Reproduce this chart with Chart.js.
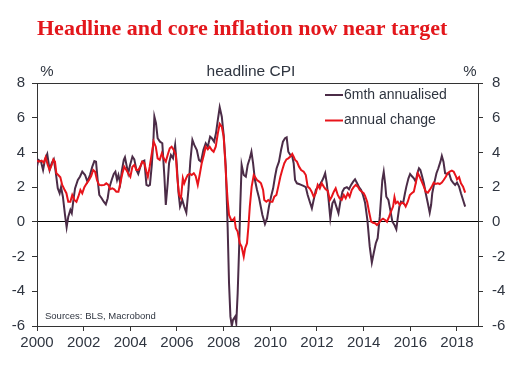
<!DOCTYPE html>
<html>
<head>
<meta charset="utf-8">
<script src="https://cdn.jsdelivr.net/npm/chart.js@4"></script>
<style>
  body { margin: 0; background: #fff; }
  canvas { display: block; }
</style>
</head>
<body>
<canvas id="chart" width="522" height="371"></canvas>
<script>
const TITLE = "Headline and core inflation now near target";
const SUBTITLE = "headline CPI";
const SOURCE = "Sources: BLS, Macrobond";
const LEGEND_LABELS = ["6mth annualised", "annual change"];
const X_TICKS = { min: 2000, max: 2018.9, step: 2 };
const Y_TICKS = { min: -6, max: 8, step: 2 };

// 6mth annualised (year, %)
const sixMonthX = [
  2000.00, 2000.06, 2000.17, 2000.26, 2000.34, 2000.44, 2000.54, 2000.63, 2000.72, 2000.80,
  2000.89, 2000.97, 2001.03, 2001.11, 2001.20, 2001.27, 2001.34, 2001.43, 2001.49, 2001.57,
  2001.63, 2001.75, 2001.84, 2001.94, 2002.06, 2002.16, 2002.27, 2002.37, 2002.46, 2002.53,
  2002.60, 2002.67, 2002.77, 2002.86, 2002.95, 2003.03, 2003.09, 2003.20, 2003.29, 2003.36,
  2003.43, 2003.49, 2003.57, 2003.63, 2003.72, 2003.77, 2003.85, 2003.91, 2003.99, 2004.09,
  2004.17, 2004.26, 2004.34, 2004.43, 2004.51, 2004.60, 2004.69, 2004.77, 2004.84, 2004.92,
  2004.99, 2005.03, 2005.10, 2005.17, 2005.27, 2005.37, 2005.46, 2005.52, 2005.60, 2005.66,
  2005.74, 2005.83, 2005.92, 2005.99, 2006.06, 2006.13, 2006.23, 2006.31, 2006.40, 2006.49,
  2006.57, 2006.66, 2006.74, 2006.85, 2006.94, 2007.03, 2007.13, 2007.23, 2007.32, 2007.42,
  2007.49, 2007.59, 2007.67, 2007.75, 2007.83, 2007.92, 2008.00, 2008.09, 2008.17, 2008.23,
  2008.29, 2008.35, 2008.40, 2008.49, 2008.54, 2008.60, 2008.66, 2008.71, 2008.77, 2008.86,
  2008.95, 2009.03, 2009.12, 2009.19, 2009.26, 2009.34, 2009.43, 2009.52, 2009.66, 2009.77,
  2009.86, 2009.94, 2010.03, 2010.12, 2010.20, 2010.27, 2010.37, 2010.46, 2010.54, 2010.63,
  2010.70, 2010.77, 2010.86, 2010.94, 2011.00, 2011.06, 2011.14, 2011.23, 2011.32, 2011.42,
  2011.52, 2011.60, 2011.69, 2011.78, 2011.84, 2011.95, 2012.03, 2012.12, 2012.20, 2012.27,
  2012.35, 2012.42, 2012.49, 2012.57, 2012.66, 2012.74, 2012.83, 2012.92, 2013.00, 2013.09,
  2013.17, 2013.28, 2013.37, 2013.46, 2013.55, 2013.63, 2013.72, 2013.80, 2013.89, 2013.97,
  2014.06, 2014.16, 2014.26, 2014.35, 2014.43, 2014.52, 2014.60, 2014.69, 2014.75, 2014.80,
  2014.86, 2014.92, 2014.97, 2015.06, 2015.14, 2015.23, 2015.32, 2015.40, 2015.46, 2015.53,
  2015.60, 2015.69, 2015.77, 2015.83, 2015.92, 2015.99, 2016.06, 2016.15, 2016.23, 2016.30,
  2016.37, 2016.43, 2016.49, 2016.58, 2016.66, 2016.75, 2016.83, 2016.89, 2016.94, 2017.03,
  2017.12, 2017.20, 2017.29, 2017.35, 2017.42, 2017.49, 2017.57, 2017.66, 2017.75, 2017.83,
  2017.92, 2018.00, 2018.09, 2018.17, 2018.26, 2018.35
];
const sixMonthY = [
  3.18, 3.57, 3.47, 2.99, 3.57, 3.91, 2.99, 3.38, 3.60, 2.90,
  1.93, 1.65, 2.00, 1.45, 0.40, -0.31, 0.30, 0.69, 0.50, 1.36,
  1.93, 2.41, 2.60, 2.89, 2.70, 2.32, 2.70, 3.18, 3.50, 3.47,
  2.41, 1.55, 1.36, 1.16, 1.01, 1.36, 1.93, 2.41, 2.76, 2.89,
  2.41, 2.70, 2.22, 2.89, 3.57, 3.72, 3.18, 2.80, 3.28, 3.76,
  3.60, 2.99, 2.76, 3.18, 3.47, 3.53, 2.13, 2.07, 2.13, 3.28,
  4.72, 6.06, 5.68, 4.82, 4.62, 4.53, 2.60, 0.97, 2.22, 3.38,
  3.85, 3.66, 4.43, 3.28, 1.74, 0.88, 1.26, 0.88, 0.53, 1.84,
  3.47, 4.72, 4.43, 4.14, 3.57, 3.47, 4.14, 4.53, 4.33, 4.91,
  4.82, 4.62, 5.10, 5.87, 6.60, 6.06, 5.00, 3.18, -0.28, -3.54,
  -5.46, -6.00, -5.65, -5.46, -5.84, -4.11, -1.62, 0.88, 3.28, 2.70,
  2.60, 3.28, 3.66, 4.04, 3.38, 2.41, 1.84, 1.36, 0.40, -0.12,
  0.21, 0.88, 1.45, 1.93, 2.60, 3.09, 3.47, 4.14, 4.62, 4.82,
  4.87, 4.04, 3.85, 3.76, 3.38, 2.41, 2.22, 2.18, 2.13, 2.07,
  2.00, 1.55, 1.16, 0.78, 1.16, 1.84, 2.00, 2.13, 2.32, 2.51,
  2.80, 2.22, 1.36, 0.21, 1.07, 1.26, 0.88, 0.50, 1.16, 1.74,
  1.93, 2.00, 1.88, 2.13, 2.32, 2.45, 2.22, 2.00, 1.84, 1.55,
  1.10, 0.10, -1.43, -2.35, -1.81, -1.23, -0.94, 0.30, 1.45, 2.41,
  2.89, 2.22, 1.45, 1.26, 0.69, 0.01, -0.18, -0.43, 0.21, 0.88,
  1.16, 1.07, 1.65, 2.03, 2.51, 2.76, 2.64, 2.51, 2.32, 2.80,
  3.09, 2.99, 2.70, 2.22, 1.65, 1.07, 0.53, 0.97, 1.65, 2.26,
  2.80, 3.09, 3.47, 3.80, 3.47, 2.80, 2.76, 2.80, 2.41, 2.26,
  2.13, 2.26, 2.03, 1.65, 1.26, 0.88
];

// annual change (year, %)
const annualX = [
  2000.00, 2000.09, 2000.20, 2000.29, 2000.37, 2000.46, 2000.54, 2000.63, 2000.70, 2000.77,
  2000.83, 2000.91, 2001.00, 2001.08, 2001.17, 2001.26, 2001.34, 2001.43, 2001.51, 2001.60,
  2001.69, 2001.77, 2001.86, 2001.94, 2002.03, 2002.13, 2002.23, 2002.32, 2002.41, 2002.49,
  2002.57, 2002.66, 2002.77, 2002.89, 2002.97, 2003.06, 2003.14, 2003.23, 2003.31, 2003.40,
  2003.49, 2003.57, 2003.66, 2003.74, 2003.83, 2003.91, 2004.00, 2004.09, 2004.17, 2004.26,
  2004.34, 2004.43, 2004.51, 2004.60, 2004.69, 2004.75, 2004.83, 2004.92, 2005.00, 2005.09,
  2005.17, 2005.26, 2005.35, 2005.43, 2005.52, 2005.60, 2005.69, 2005.77, 2005.86, 2005.95,
  2006.01, 2006.09, 2006.17, 2006.25, 2006.31, 2006.39, 2006.46, 2006.55, 2006.63, 2006.72,
  2006.80, 2006.89, 2006.97, 2007.06, 2007.15, 2007.23, 2007.32, 2007.40, 2007.49, 2007.57,
  2007.66, 2007.75, 2007.83, 2007.92, 2008.00, 2008.06, 2008.11, 2008.17, 2008.23, 2008.32,
  2008.40, 2008.46, 2008.52, 2008.60, 2008.69, 2008.77, 2008.86, 2008.92, 2009.00, 2009.06,
  2009.12, 2009.20, 2009.29, 2009.34, 2009.43, 2009.52, 2009.60, 2009.69, 2009.74, 2009.83,
  2009.91, 2010.00, 2010.09, 2010.17, 2010.26, 2010.34, 2010.43, 2010.51, 2010.60, 2010.69,
  2010.77, 2010.86, 2010.94, 2011.00, 2011.06, 2011.14, 2011.23, 2011.32, 2011.43, 2011.52,
  2011.60, 2011.69, 2011.77, 2011.86, 2011.95, 2012.03, 2012.12, 2012.20, 2012.29, 2012.37,
  2012.46, 2012.55, 2012.63, 2012.72, 2012.80, 2012.89, 2012.97, 2013.06, 2013.15, 2013.23,
  2013.32, 2013.40, 2013.49, 2013.57, 2013.66, 2013.75, 2013.83, 2013.92, 2014.00, 2014.06,
  2014.15, 2014.23, 2014.32, 2014.40, 2014.49, 2014.57, 2014.66, 2014.75, 2014.83, 2014.92,
  2015.00, 2015.09, 2015.17, 2015.26, 2015.32, 2015.38, 2015.46, 2015.55, 2015.63, 2015.72,
  2015.80, 2015.89, 2015.98, 2016.06, 2016.15, 2016.23, 2016.32, 2016.40, 2016.49, 2016.58,
  2016.66, 2016.75, 2016.83, 2016.92, 2017.00, 2017.09, 2017.18, 2017.26, 2017.35, 2017.43,
  2017.52, 2017.60, 2017.69, 2017.78, 2017.86, 2017.95, 2018.00, 2018.09, 2018.17, 2018.26,
  2018.35
];
const annualY = [
  3.53, 3.47, 3.53, 3.41, 3.72, 3.28, 2.99, 3.28, 3.60, 3.47,
  2.80, 2.70, 2.57, 2.13, 1.88, 1.65, 1.16, 1.16, 1.55, 1.26,
  1.16, 1.45, 1.84, 1.65, 2.00, 2.22, 2.41, 2.64, 2.99, 2.89,
  2.41, 2.13, 2.11, 2.13, 2.22, 2.13, 1.88, 1.93, 1.88, 1.74,
  1.74, 2.22, 2.80, 3.18, 2.99, 2.80, 2.60, 3.18, 3.28, 2.99,
  2.99, 3.18, 3.47, 3.38, 2.89, 2.60, 3.18, 3.95, 4.62, 4.33,
  3.66, 3.57, 3.95, 3.66, 3.47, 3.85, 4.24, 4.33, 4.14, 3.85,
  2.60, 1.55, 1.36, 2.51, 2.22, 2.51, 2.70, 2.76, 2.70, 2.80,
  2.64, 2.13, 2.70, 3.38, 3.85, 4.33, 4.18, 4.33, 4.14, 4.04,
  4.33, 5.10, 5.64, 5.48, 4.91, 3.66, 2.41, 1.26, 0.40, 0.11,
  0.11, 0.21, -0.37, -0.56, -1.23, -1.43, -2.00, -1.52, -1.23, -0.28,
  0.88, 2.03, 2.70, 2.60, 2.41, 2.32, 2.22, 1.84, 1.26, 1.16,
  1.26, 1.16, 1.16, 1.45, 1.55, 2.03, 2.60, 2.99, 3.38, 3.60,
  3.66, 3.76, 3.91, 3.76, 3.57, 3.47, 3.18, 2.99, 2.89, 2.70,
  2.03, 1.93, 1.74, 1.45, 1.65, 2.13, 1.93, 2.22, 2.03, 1.88,
  1.80, 1.26, 1.45, 1.74, 1.93, 1.55, 1.36, 1.26, 1.55, 1.36,
  1.65, 1.45, 1.84, 2.00, 2.13, 2.03, 1.84, 1.74, 1.65, 1.50,
  1.16, 0.59, 0.01, -0.05, -0.08, -0.18, -0.05, 0.11, 0.18, 0.11,
  0.01, 0.30, 0.59, 0.88, 1.42, 1.07, 1.16, 0.97, 1.11, 1.07,
  0.88, 1.16, 1.55, 1.65, 1.74, 2.22, 2.80, 2.60, 2.32, 2.03,
  1.74, 1.68, 1.84, 2.03, 2.26, 2.18, 2.22, 2.18, 2.26, 2.41,
  2.60, 2.80, 2.89, 2.95, 2.89, 2.64, 2.45, 2.57, 2.22, 2.03,
  1.68
];

const DARK = "#4b2c47";
const RED = "#e8141b";
const AXIS = "#333333";
const TEXT = "#2f3540";
const FONT = "'Liberation Sans', Arial, sans-serif";

function toPoints(xs, ys) {
  return xs.map((x, i) => ({ x, y: ys[i] }));
}

// titles, legend and source note drawn straight on the canvas
const overlayText = {
  id: "overlayText",
  afterDraw(chart) {
    const ctx = chart.ctx;
    const area = chart.chartArea;
    ctx.save();

    ctx.fillStyle = "#e3171c";
    ctx.font = "bold 22px 'Liberation Serif', 'Times New Roman', serif";
    ctx.textAlign = "left";
    ctx.textBaseline = "alphabetic";
    ctx.fillText(TITLE, 37, 35);

    ctx.fillStyle = TEXT;
    ctx.textBaseline = "middle";
    ctx.font = `15.5px ${FONT}`;
    ctx.textAlign = "center";
    ctx.fillText(SUBTITLE, 251, 72);
    ctx.font = `15px ${FONT}`;
    ctx.fillText("%", 47, 72);
    ctx.fillText("%", 470, 72);

    const colors = [DARK, RED];
    ctx.font = `14px ${FONT}`;
    ctx.textAlign = "left";
    LEGEND_LABELS.forEach((label, i) => {
      const y = 95 + i * 25.5;
      ctx.strokeStyle = colors[i];
      ctx.lineWidth = 2;
      ctx.beginPath();
      ctx.moveTo(325, y);
      ctx.lineTo(343, y);
      ctx.stroke();
      ctx.fillStyle = TEXT;
      ctx.fillText(label, 344, y);
    });

    ctx.font = `9.5px ${FONT}`;
    ctx.fillText(SOURCE, area.left + 8, 316);
    ctx.restore();
  }
};

const tickFont = { family: FONT, size: 15 };

new Chart(document.getElementById("chart"), {
  type: "line",
  data: {
    datasets: [
      {
        label: LEGEND_LABELS[1],
        data: toPoints(annualX, annualY),
        borderColor: RED,
        borderWidth: 2,
        pointRadius: 0,
        tension: 0,
        order: 0,
        yAxisID: "y"
      },
      {
        label: LEGEND_LABELS[0],
        data: toPoints(sixMonthX, sixMonthY),
        borderColor: DARK,
        borderWidth: 2,
        pointRadius: 0,
        tension: 0,
        order: 1,
        yAxisID: "y"
      }
    ]
  },
  options: {
    responsive: false,
    animation: false,
    layout: { padding: { top: 83, left: 0, right: 0, bottom: 0 } },
    plugins: {
      legend: { display: false },
      tooltip: { enabled: false }
    },
    scales: {
      x: {
        type: "linear",
        min: X_TICKS.min,
        max: X_TICKS.max,
        afterFit: (scale) => { scale.height = 45; },
        ticks: {
          stepSize: X_TICKS.step,
          includeBounds: false,
          maxRotation: 0,
          autoSkip: false,
          padding: 3,
          color: TEXT,
          font: tickFont,
          callback: (v) => String(v)
        },
        grid: { drawOnChartArea: false, tickLength: 5, tickColor: AXIS },
        border: { color: AXIS, width: 1 }
      },
      y: {
        position: "left",
        min: Y_TICKS.min,
        max: Y_TICKS.max,
        afterFit: (scale) => { scale.width = 37; },
        ticks: { stepSize: Y_TICKS.step, padding: 7, color: TEXT, font: tickFont },
        grid: {
          tickLength: 5,
          tickColor: AXIS,
          color: (c) => {
            if (!c.tick) return "rgba(0,0,0,0)";
            if (c.tick.value === 0) return "#000000";
            if (c.tick.value === Y_TICKS.max) return AXIS;
            return "rgba(0,0,0,0)";
          }
        },
        border: { color: AXIS, width: 1 }
      },
      y2: {
        position: "right",
        min: Y_TICKS.min,
        max: Y_TICKS.max,
        afterFit: (scale) => { scale.width = 44; },
        ticks: { stepSize: Y_TICKS.step, padding: 9, color: TEXT, font: tickFont },
        grid: { drawOnChartArea: false, tickLength: 5, tickColor: AXIS },
        border: { color: AXIS, width: 1 }
      }
    }
  },
  plugins: [overlayText]
});
</script>
</body>
</html>
